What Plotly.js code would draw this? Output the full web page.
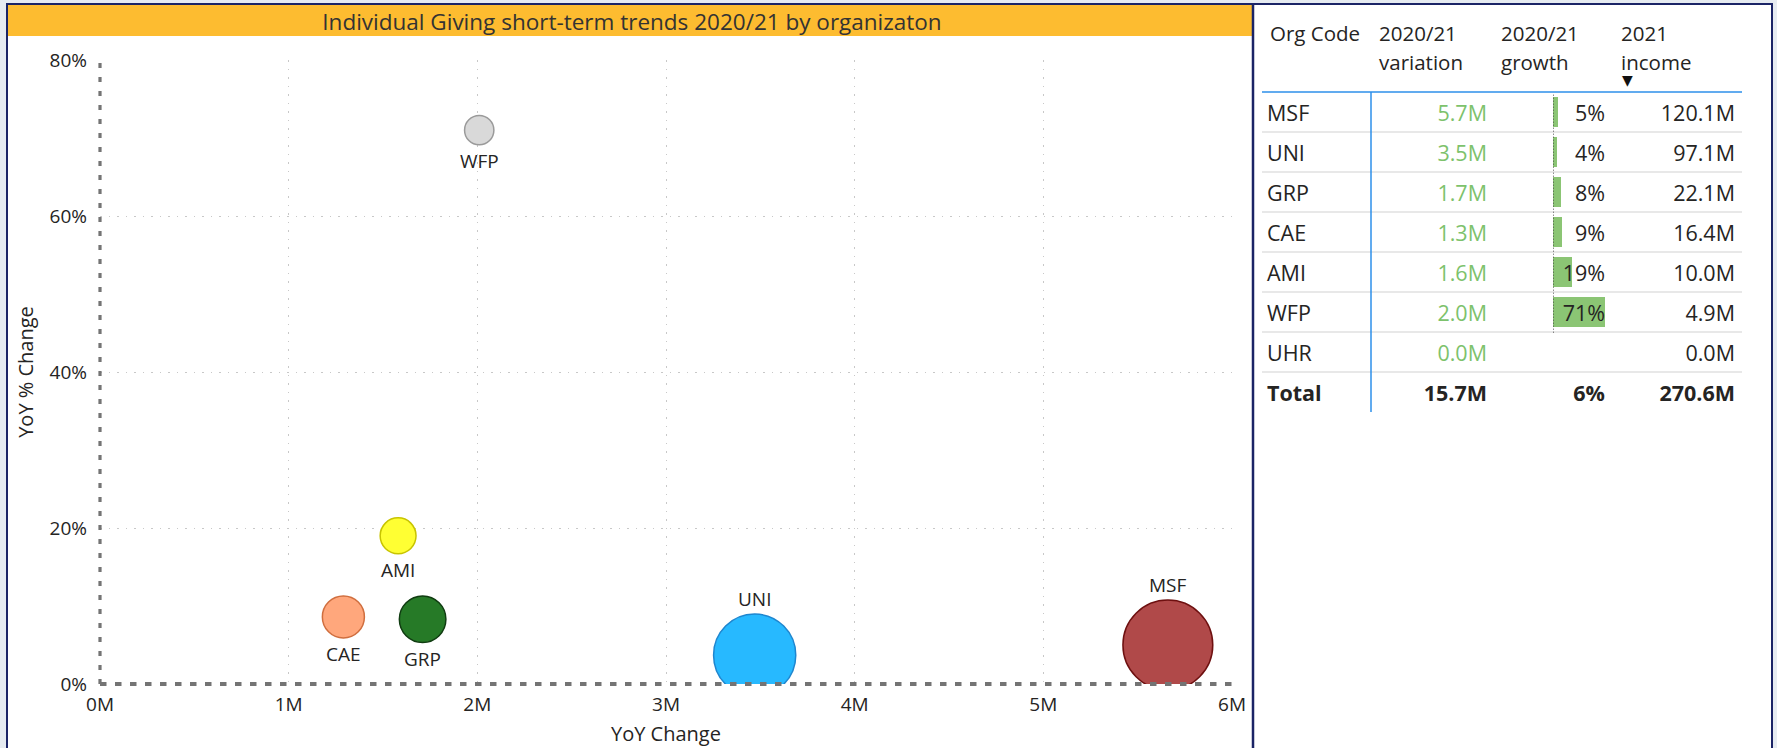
<!DOCTYPE html>
<html>
<head>
<meta charset="utf-8">
<script src="https://cdn.plot.ly/plotly-3.0.1.min.js"></script>
<style>
  html, body { margin: 0; padding: 0; background: #E6EBF1; }
  #chart { width: 1777px; height: 748px; }
</style>
</head>
<body>
<div id="chart"></div>
<script>
// ---------- data ----------
const orgCodes     = ['MSF', 'UNI', 'GRP', 'CAE', 'AMI', 'WFP', 'UHR'];
const variationM   = [5.66, 3.47, 1.71, 1.29, 1.58, 2.01, 0.0];   // YoY change, millions
const growthPct    = [5.0, 3.7, 8.3, 8.6, 19.0, 71.0, null];      // YoY % change
const income2021M  = [120.1, 97.1, 22.1, 16.4, 10.0, 4.9, 0.0];   // 2021 income, millions
const bubbleFill   = ['#B04949', '#27B9FF', '#267A27', '#FFA77C', '#FFFF33', '#D9D9D9', '#CCCCCC'];
const bubbleLine   = ['#6E1010', '#1E86CF', '#103C11', '#D06E3E', '#C8C400', '#9A9A9A', '#999999'];
const labelAbove   = [true, true, false, false, false, false, false];
const xTickVals    = [0, 1, 2, 3, 4, 5, 6];
const xTickText    = ['0M', '1M', '2M', '3M', '4M', '5M', '6M'];
const yTickVals    = [0, 20, 40, 60, 80];
const yTickText    = ['0%', '20%', '40%', '60%', '80%'];
const headerTop    = ['Org Code', '2020/21', '2020/21', '2021'];
const headerBottom = ['', 'variation', 'growth', 'income'];
const chartTitle   = 'Individual Giving short-term trends 2020/21 by organizaton';

// ---------- helpers (sizes / totals from data) ----------
const W = 1777, H = 748;
const px = v => v / W;
const py = v => 1 - v / H;
const FONT = '"Open Sans", "Noto Sans", sans-serif';
const TXT = '#252423';
const TFS = 21.5; // table font size
const HFS = 20.5; // header font size

const shown = orgCodes.map((c, i) => i).filter(i => income2021M[i] > 0);
const radiusOf = v => 7 + 3.46 * Math.sqrt(v);
const bubbleDiam = shown.map(i => 2 * radiusOf(income2021M[i]));

const totalVar = variationM.reduce((a, b) => a + b, 0);
const totalInc = income2021M.reduce((a, b) => a + b, 0);
const totalGrowth = 100 * totalVar / (totalInc - totalVar);

const rowLabels = orgCodes.concat(['Total']);
const varText = variationM.map(v => v.toFixed(1) + 'M').concat(['<b>' + totalVar.toFixed(1) + 'M</b>']);
const growthText = growthPct.map(g => g == null ? '' : Math.round(g) + '%').concat(['<b>' + Math.round(totalGrowth) + '%</b>']);
const incText = income2021M.map(v => v.toFixed(1) + 'M').concat(['<b>' + totalInc.toFixed(1) + 'M</b>']);
const codeText = orgCodes.slice().concat(['<b>Total</b>']);
const barIdx = orgCodes.map((c, i) => i).filter(i => growthPct[i] != null);

// table column anchors (pixel-like units on xaxis2)
const colCode = 1267, colVar = 1487, colInc = 1735;
const BAR_MAX = 52;

const traces = [
  {
    type: 'scatter', mode: 'markers', xaxis: 'x', yaxis: 'y',
    x: shown.map(i => variationM[i]),
    y: shown.map(i => growthPct[i]),
    marker: {
      size: bubbleDiam, sizemode: 'diameter', opacity: 1,
      color: shown.map(i => bubbleFill[i]),
      line: { color: shown.map(i => bubbleLine[i]), width: 1.5 }
    },
    cliponaxis: true, hoverinfo: 'skip', showlegend: false
  },
  // growth data bars
  {
    type: 'bar', orientation: 'h', xaxis: 'x3', yaxis: 'y2',
    y: barIdx.map(i => orgCodes[i]),
    x: barIdx.map(i => growthPct[i]),
    width: 0.75,
    marker: { color: '#8BC574', line: { width: 0 } },
    hoverinfo: 'skip', showlegend: false
  },
  // table text columns
  {
    type: 'scatter', mode: 'text', xaxis: 'x2', yaxis: 'y4',
    x: rowLabels.map(() => colCode), y: rowLabels, text: codeText,
    textposition: 'middle right', textfont: { family: FONT, size: TFS, color: TXT },
    hoverinfo: 'skip', showlegend: false, cliponaxis: false
  },
  {
    type: 'scatter', mode: 'text', xaxis: 'x2', yaxis: 'y4',
    x: rowLabels.map(() => colVar), y: rowLabels, text: varText,
    textposition: 'middle left',
    textfont: { family: FONT, size: TFS, color: rowLabels.map((r, i) => i < orgCodes.length ? '#7DC26C' : TXT) },
    hoverinfo: 'skip', showlegend: false, cliponaxis: false
  },
  {
    type: 'scatter', mode: 'text', xaxis: 'x3', yaxis: 'y4',
    x: rowLabels.map(() => BAR_MAX), y: rowLabels, text: growthText,
    textposition: 'middle left', textfont: { family: FONT, size: TFS, color: TXT },
    hoverinfo: 'skip', showlegend: false, cliponaxis: false
  },
  {
    type: 'scatter', mode: 'text', xaxis: 'x2', yaxis: 'y4',
    x: rowLabels.map(() => colInc), y: rowLabels, text: incText,
    textposition: 'middle left', textfont: { family: FONT, size: TFS, color: TXT },
    hoverinfo: 'skip', showlegend: false, cliponaxis: false
  }
];

// ---------- decoration shapes ----------
const shapes = [
  { type: 'rect', xref: 'paper', yref: 'paper', x0: px(7), x1: px(1772), y0: -0.05, y1: py(4),
    fillcolor: '#FFFFFF', line: { width: 0 }, layer: 'below' },
  { type: 'rect', xref: 'paper', yref: 'paper', x0: px(7), x1: px(1253), y0: py(36), y1: py(4),
    fillcolor: '#FDBC30', line: { width: 0 }, layer: 'below' },
  { type: 'rect', xref: 'paper', yref: 'paper', x0: px(7), x1: px(1772), y0: -0.05, y1: py(4),
    line: { color: '#1B2466', width: 2 }, layer: 'above' },
  { type: 'line', xref: 'paper', yref: 'paper', x0: px(1253), x1: px(1253), y0: -0.05, y1: py(4),
    line: { color: '#1B2466', width: 2.5 }, layer: 'above' },
  // dashed axes of the scatter (paper refs so they are not clipped)
  { type: 'line', xref: 'paper', yref: 'paper', x0: px(100), x1: px(100), y0: py(684), y1: py(58),
    line: { color: '#747474', width: 3.2, dash: '5px,9px' }, layer: 'above' },
  { type: 'line', xref: 'paper', yref: 'paper', x0: px(100), x1: px(1233), y0: py(684), y1: py(684),
    line: { color: '#747474', width: 3.8, dash: '6.5px,8.5px' }, layer: 'above' },
  // table rules
  { type: 'line', xref: 'x2 domain', yref: 'y2 domain', x0: 0, x1: 1, y0: 1, y1: 1,
    line: { color: '#2D8FEA', width: 1.5 }, layer: 'above' },
  { type: 'line', xref: 'x2', yref: 'y2 domain', x0: 1371, x1: 1371, y0: 0, y1: 1,
    line: { color: '#2D8FEA', width: 1.5 }, layer: 'above' },
  { type: 'line', xref: 'x3', yref: 'y2 domain', x0: 0, x1: 0,
    y0: 1 - barIdx.length / rowLabels.length - 0.003, y1: 0.995,
    line: { color: '#444444', width: 1.2, dash: '1.5px,1.5px' }, layer: 'above' }
];
for (let i = 0; i < rowLabels.length - 1; i++) {
  shapes.push({ type: 'line', xref: 'x2 domain', yref: 'y2', x0: 0, x1: 1, y0: i + 0.5, y1: i + 0.5,
    line: { color: '#E1E1E1', width: 1.5 }, layer: 'below' });
}

// ---------- annotations ----------
const annotations = [];
// bubble labels
shown.forEach(i => {
  const r = radiusOf(income2021M[i]);
  annotations.push({
    xref: 'x', yref: 'y', x: variationM[i], y: growthPct[i],
    text: orgCodes[i], showarrow: false, xanchor: 'center', yanchor: 'middle',
    yshift: labelAbove[i] ? (r + 15) : -(r + 16.5),
    font: { family: FONT, size: 19, color: TXT }
  });
});
// table header
const headerX = [1269, 1378, 1500, 1620];
headerTop.forEach((t, i) => {
  annotations.push({ xref: 'paper', yref: 'paper', x: px(headerX[i]), y: py(32.5), xanchor: 'left', yanchor: 'middle',
    text: t, showarrow: false, borderpad: 0, font: { family: FONT, size: HFS, color: TXT } });
  if (headerBottom[i]) {
    annotations.push({ xref: 'paper', yref: 'paper', x: px(headerX[i]), y: py(62.5), xanchor: 'left', yanchor: 'middle',
      text: headerBottom[i], showarrow: false, borderpad: 0, font: { family: FONT, size: HFS, color: TXT } });
  }
});
annotations.push({ xref: 'paper', yref: 'paper', x: px(1627), y: py(80), xanchor: 'center', yanchor: 'middle',
  text: '▼', showarrow: false, borderpad: 0, font: { family: 'DejaVu Sans', size: 14, color: '#111111' } });

const layout = {
  width: W, height: H,
  margin: { l: 0, r: 0, t: 0, b: 0, pad: 0 },
  paper_bgcolor: '#E6EBF1',
  plot_bgcolor: 'rgba(0,0,0,0)',
  font: { family: FONT, color: TXT },
  showlegend: false,
  title: {
    text: chartTitle, x: px(632), y: py(22), xref: 'paper', yref: 'paper',
    xanchor: 'center', yanchor: 'middle', font: { family: FONT, size: 22.5, color: '#333333' }
  },
  xaxis: {
    domain: [px(100), px(1232)], range: [0, 6], tickvals: xTickVals, ticktext: xTickText,
    showgrid: true, gridcolor: '#C8C8C8', gridwidth: 1, griddash: '1.5px,7px',
    zeroline: false, showline: false, ticks: '', ticklabelstandoff: 7,
    tickfont: { family: FONT, size: 19, color: TXT },
    title: { text: 'YoY Change', font: { family: FONT, size: 20, color: TXT }, standoff: 10 },
    fixedrange: true, automargin: false
  },
  yaxis: {
    domain: [py(684), py(60)], range: [0, 80], tickvals: yTickVals, ticktext: yTickText,
    showgrid: true, gridcolor: '#C8C8C8', gridwidth: 1, griddash: '1.5px,7px',
    zeroline: false, showline: false, ticks: '', ticklabelstandoff: 12,
    tickfont: { family: FONT, size: 19, color: TXT },
    title: { text: 'YoY % Change', font: { family: FONT, size: 20, color: TXT }, standoff: 10 },
    fixedrange: true, automargin: false
  },
  xaxis2: {
    domain: [px(1262), px(1742)], range: [1262, 1742], anchor: 'y2',
    visible: false, fixedrange: true
  },
  yaxis2: {
    domain: [py(412), py(92)], type: 'category', categoryorder: 'array', categoryarray: rowLabels,
    range: [rowLabels.length - 0.5, -0.5], anchor: 'x2', visible: false, fixedrange: true
  },
  xaxis3: {
    domain: [px(1553), px(1605)], range: [0, BAR_MAX], anchor: 'y2',
    visible: false, fixedrange: true
  },
  // same rows as yaxis2, nudged to centre the glyphs in each row
  yaxis4: {
    domain: [py(415.5), py(95.5)], type: 'category', categoryorder: 'array', categoryarray: rowLabels,
    range: [rowLabels.length - 0.5, -0.5], anchor: 'x2', visible: false, fixedrange: true
  },
  bargap: 0,
  shapes: shapes,
  annotations: annotations
};

Plotly.newPlot('chart', traces, layout, { staticPlot: true, displayModeBar: false });
</script>
</body>
</html>
